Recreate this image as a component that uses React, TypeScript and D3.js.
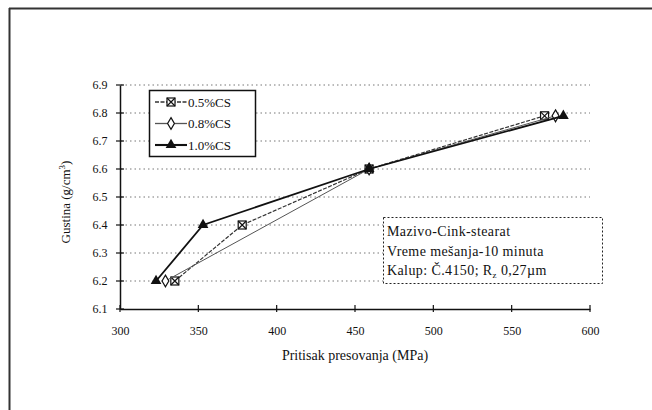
import React, { useEffect, useRef } from 'react';
import * as d3 from 'd3';

// pritisak (MPa) / gustina (g/cm3)
const s05x = [335, 378, 459, 571];
const s05y = [6.2, 6.4, 6.6, 6.79];
const s08x = [329, 459, 578];
const s08y = [6.2, 6.6, 6.79];
const s10x = [323, 353, 459, 583];
const s10y = [6.2, 6.4, 6.6, 6.79];
const seriesNames = ['0.5%CS', '0.8%CS', '1.0%CS'];
const xTicks = [300, 350, 400, 450, 500, 550, 600];
const yTicks = [6.1, 6.2, 6.3, 6.4, 6.5, 6.6, 6.7, 6.8, 6.9];
const xTickLabels = ['300', '350', '400', '450', '500', '550', '600'];
const noteLines = ['Mazivo-Cink-stearat', 'Vreme mešanja-10 minuta'];

const FONT = '"Liberation Serif", "DejaVu Serif", serif';

const App = () => {
  const svgRef = useRef<SVGSVGElement | null>(null);

  useEffect(() => {
    const svg = d3.select(svgRef.current);
    svg.selectAll('*').remove();

    const x = d3.scaleLinear().domain([300, 600]).range([120, 590]);
    const y = d3.scaleLinear().domain([6.1, 6.9]).range([309, 85]);

    // outer frame (top and left only visible)
    svg.append('line').attr('x1', 9).attr('x2', 652).attr('y1', 8.5).attr('y2', 8.5)
      .attr('stroke', '#333').attr('stroke-width', 2);
    svg.append('line').attr('x1', 9.5).attr('x2', 9.5).attr('y1', 8).attr('y2', 410)
      .attr('stroke', '#333').attr('stroke-width', 2);

    // grid
    svg.append('g').selectAll('line').data(yTicks.slice(1)).enter().append('line')
      .attr('x1', 121).attr('x2', 590)
      .attr('y1', d => y(d)).attr('y2', d => y(d))
      .attr('stroke', '#777').attr('stroke-width', 1).attr('stroke-dasharray', '1.5,3');

    // axes
    const xAxis = svg.append('g').attr('transform', `translate(0,${y(6.1)})`)
      .call(d3.axisBottom(x).tickValues(xTicks).tickSize(0).tickFormat((_, i) => xTickLabels[i]));
    xAxis.select('.domain').attr('stroke', '#111').attr('stroke-width', 1.5);
    xAxis.selectAll('text').attr('font-family', FONT).attr('font-size', 12).attr('fill', '#111').attr('dy', '1.9em');
    svg.append('g').selectAll('line').data(xTicks).enter().append('line')
      .attr('x1', d => x(d)).attr('x2', d => x(d)).attr('y1', y(6.1) - 4).attr('y2', y(6.1) + 3)
      .attr('stroke', '#111').attr('stroke-width', 1.2);

    const yAxis = svg.append('g').attr('transform', `translate(${x(300)},0)`)
      .call(d3.axisLeft(y).tickValues(yTicks).tickSize(0).tickFormat(d3.format('.1f')));
    yAxis.select('.domain').attr('stroke', '#111').attr('stroke-width', 1.5);
    yAxis.selectAll('text').attr('font-family', FONT).attr('font-size', 12).attr('fill', '#111').attr('dx', '-0.8em');
    svg.append('g').selectAll('line').data(yTicks).enter().append('line')
      .attr('x1', x(300) - 4).attr('x2', x(300) + 4).attr('y1', d => y(d)).attr('y2', d => y(d))
      .attr('stroke', '#111').attr('stroke-width', 1.2);

    // axis titles
    svg.append('text').attr('x', 355).attr('y', 360).attr('text-anchor', 'middle')
      .attr('font-family', FONT).attr('font-size', 14).attr('fill', '#111')
      .text('Pritisak presovanja (MPa)');
    const yt = svg.append('text').attr('transform', 'translate(70,202) rotate(-90)')
      .attr('text-anchor', 'middle').attr('font-family', FONT).attr('font-size', 13).attr('fill', '#111');
    yt.append('tspan').text('Gustina (g/cm');
    yt.append('tspan').attr('dy', -5).attr('font-size', 9).text('3');
    yt.append('tspan').attr('dy', 5).text(')');

    const line = d3.line<[number, number]>().x(d => x(d[0])).y(d => y(d[1]));
    const zip = (xs: number[], ys: number[]) => xs.map((v, i) => [v, ys[i]] as [number, number]);
    const series = [
      { data: zip(s05x, s05y), width: 1.2, dash: '4,1.5', color: '#333', marker: 'square' },
      { data: zip(s08x, s08y), width: 1, dash: '', color: '#555', marker: 'diamond' },
      { data: zip(s10x, s10y), width: 1.8, dash: '', color: '#111', marker: 'triangle' },
    ];

    const drawMarker = (g: any, type: string, cx: number, cy: number) => {
      if (type === 'square') {
        g.append('rect').attr('x', cx - 4).attr('y', cy - 4).attr('width', 8).attr('height', 8)
          .attr('fill', '#fff').attr('stroke', '#111').attr('stroke-width', 1.2);
        g.append('path').attr('d', `M${cx - 4},${cy - 4}L${cx + 4},${cy + 4}M${cx + 4},${cy - 4}L${cx - 4},${cy + 4}`)
          .attr('stroke', '#111').attr('stroke-width', 1.2);
      } else if (type === 'diamond') {
        g.append('path').attr('d', d3.symbol(d3.symbolDiamond, 40)())
          .attr('transform', `translate(${cx},${cy})`)
          .attr('fill', '#fff').attr('stroke', '#111').attr('stroke-width', 1.2);
      } else {
        g.append('path').attr('d', d3.symbol(d3.symbolTriangle, 50)())
          .attr('transform', `translate(${cx},${cy})`).attr('fill', '#111');
      }
    };

    series.forEach(s => {
      const g = svg.append('g');
      g.append('path').datum(s.data).attr('d', line).attr('fill', 'none')
        .attr('stroke', s.color).attr('stroke-width', s.width).attr('stroke-dasharray', s.dash);
      s.data.forEach(d => drawMarker(g, s.marker, x(d[0]), y(d[1])));
    });

    // legend
    const lg = svg.append('g');
    lg.append('rect').attr('x', 149.5).attr('y', 90.5).attr('width', 106).attr('height', 66)
      .attr('fill', '#fff').attr('stroke', '#111').attr('stroke-width', 1.5);
    series.forEach((s, i) => {
      const ly = 102 + i * 21.5;
      lg.append('line').attr('x1', 155).attr('x2', 187).attr('y1', ly).attr('y2', ly)
        .attr('stroke', s.color).attr('stroke-width', s.width + 0.3).attr('stroke-dasharray', s.dash);
      drawMarker(lg, s.marker, 171, ly);
      lg.append('text').attr('x', 188).attr('y', ly + 4.5).attr('font-family', FONT)
        .attr('font-size', 13).attr('fill', '#111').text(seriesNames[i]);
    });

    // note box
    const nb = svg.append('g');
    nb.append('rect').attr('x', 383.5).attr('y', 217.5).attr('width', 219).attr('height', 66)
      .attr('fill', '#fff').attr('stroke', '#222').attr('stroke-width', 1).attr('stroke-dasharray', '2,2');
    noteLines.forEach((t, i) => {
      nb.append('text').attr('x', 387).attr('y', 236 + i * 19.5).attr('font-family', FONT)
        .attr('font-size', 14).attr('letter-spacing', 0.4).attr('fill', '#111').text(t);
    });
    const k = nb.append('text').attr('x', 387).attr('y', 275).attr('font-family', FONT)
      .attr('font-size', 14).attr('letter-spacing', 0.4).attr('fill', '#111');
    k.append('tspan').text('Kalup: Č.4150; R');
    k.append('tspan').attr('dy', 3).attr('font-size', 9).text('z');
    k.append('tspan').attr('dy', -3).text(' 0,27µm');
  }, []);

  return (
    <svg ref={svgRef} width={652} height={410}
      style={{ position: 'absolute', left: 0, top: 0, background: '#fff' }} />
  );
};

export default App;
